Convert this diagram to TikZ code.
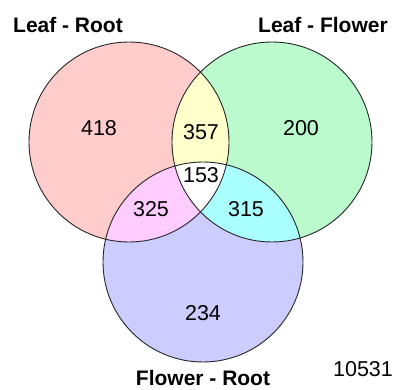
\documentclass[tikz,border=0pt]{standalone}
\usepackage{fontspec}
\setmainfont{Liberation Sans}
\definecolor{rootleaf}{RGB}{255,204,204}
\definecolor{leafflower}{RGB}{187,250,204}
\definecolor{flowerroot}{RGB}{204,204,255}
\definecolor{lrlf}{RGB}{255,255,204}
\definecolor{lrfr}{RGB}{255,204,255}
\definecolor{lffr}{RGB}{170,255,255}
\begin{document}
\begin{tikzpicture}[x=1pt,y=-1pt,
setlabel/.style={font=\fontsize{21}{23}\selectfont\bfseries,inner sep=1pt},
countlabel/.style={font=\fontsize{21.5}{23}\selectfont},
ring/.style={draw=black!85,line width=0.9pt}]
\useasboundingbox (0,0) rectangle (397,390);
\coordinate (lr) at (129,142);
\coordinate (lf) at (272,142);
\coordinate (fr) at (203,262);
\fill[rootleaf] (lr) circle (100);
\fill[leafflower] (lf) circle (100);
\fill[flowerroot] (fr) circle (100);
\begin{scope}
\clip (lr) circle (100);
\fill[lrlf] (lf) circle (100);
\fill[lrfr] (fr) circle (100);
\end{scope}
\begin{scope}
\clip (lf) circle (100);
\fill[lffr] (fr) circle (100);
\end{scope}
\begin{scope}
\clip (lr) circle (100);
\clip (lf) circle (100);
\fill[white] (fr) circle (100);
\end{scope}
\draw[ring] (lr) circle (100);
\draw[ring] (lf) circle (100);
\draw[ring] (fr) circle (100);
\node (lrname) at (68,25) [setlabel] {Leaf - Root};
\node (lfname) at (323,25) [setlabel] {Leaf - Flower};
\node (frname) at (203,378) [setlabel] {Flower - Root};
\node (only lr) at (99,128) [countlabel] {418};
\node (only lf) at (301,128) [countlabel] {200};
\node (only fr) at (203,313) [countlabel] {234};
\node (lr lf) at (201,132) [countlabel] {357};
\node (lr fr) at (151,209) [countlabel] {325};
\node (lf fr) at (246,209) [countlabel] {315};
\node (all) at (201,175) [countlabel] {153};
\node (total) at (363,369) [countlabel] {10531};
\end{tikzpicture}
\end{document}
